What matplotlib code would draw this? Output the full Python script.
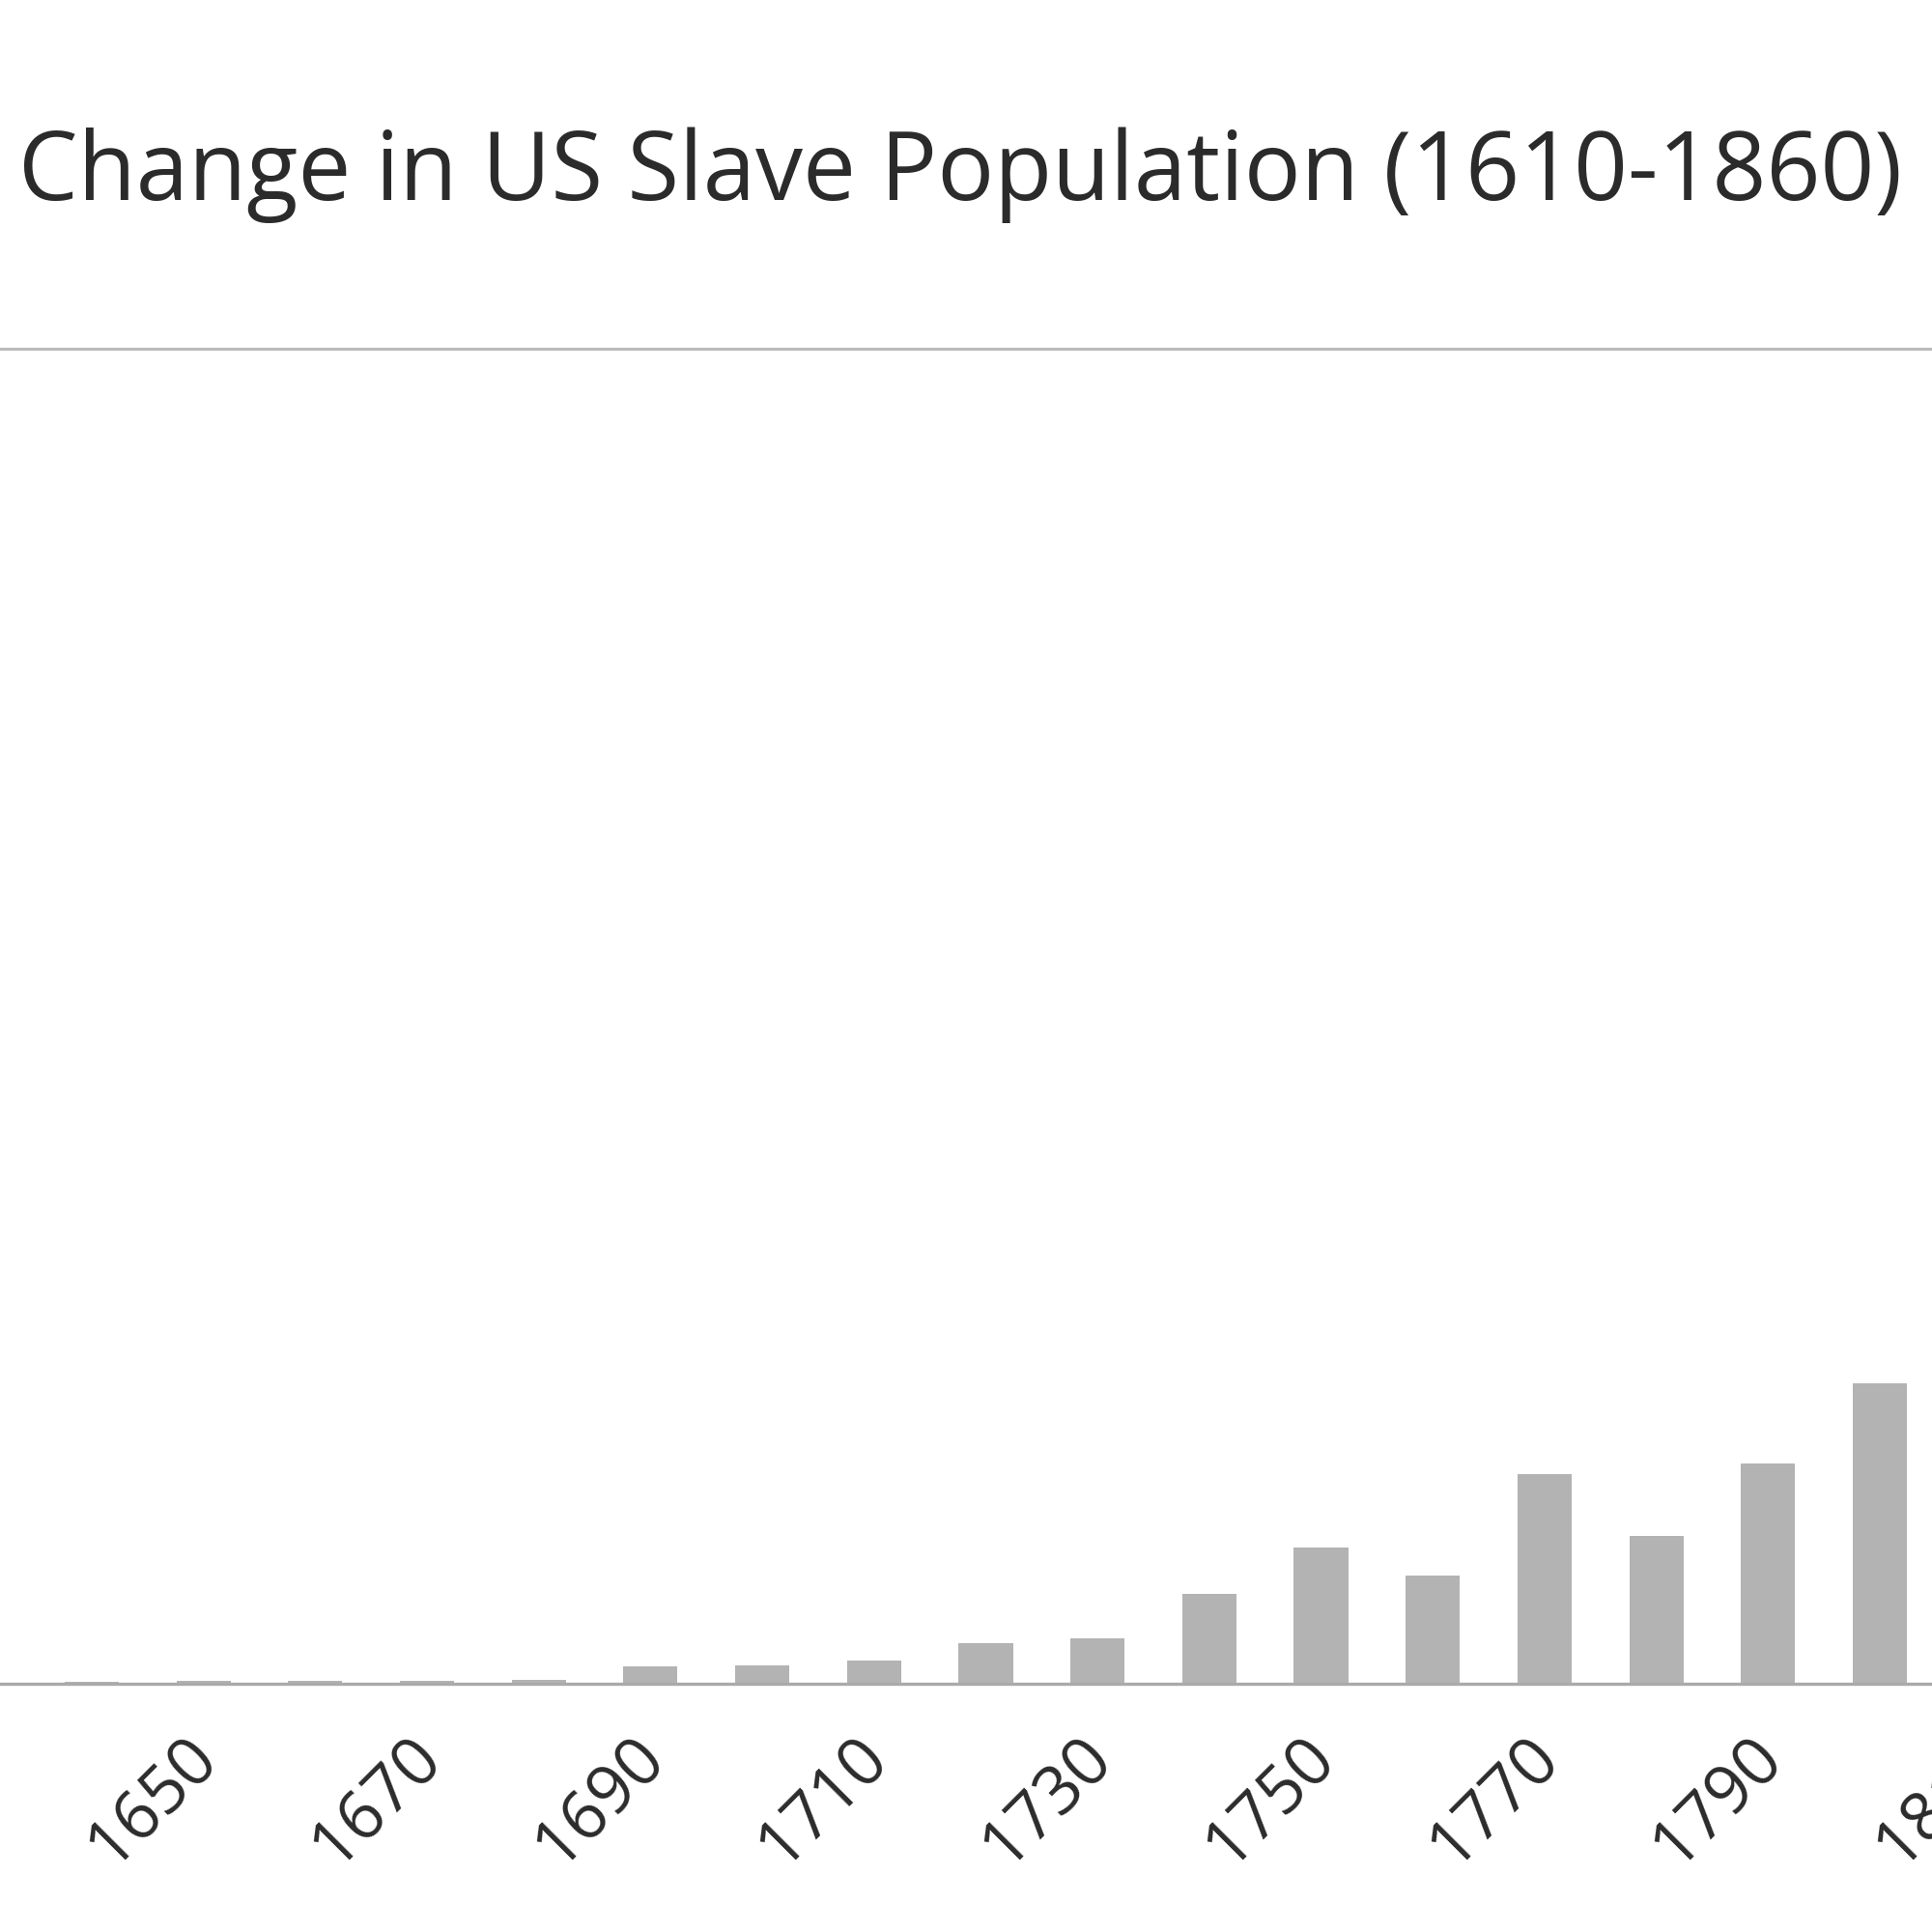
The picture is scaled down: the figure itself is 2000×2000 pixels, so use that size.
import matplotlib
matplotlib.use("Agg")
import matplotlib.pyplot as plt
from matplotlib.transforms import ScaledTranslation

years = [1630, 1640, 1650, 1660, 1670, 1680, 1690, 1700, 1710, 1720,
         1730, 1740, 1750, 1760, 1770, 1780, 1790, 1800]
change = [300, 1300, 1600, 1900, 1900, 2500, 11300, 12000, 15100, 26500,
          29600, 58600, 88800, 70600, 136700, 96400, 143600, 195900]
tick_years = [1650, 1670, 1690, 1710, 1730, 1750, 1770, 1790, 1810]
title = "Change in US Slave Population (1610-1860)"

plt.rcParams['font.family'] = ['Open Sans', 'DejaVu Sans']

fig = plt.figure(figsize=(20, 20), dpi=100)
fig.patch.set_facecolor('white')

ax = fig.add_axes([-0.155, 0.1285, 1.504, 0.691])
ax.bar(years, change, width=4.85, color='#b3b3b3', zorder=2)
ax.set_xlim(1605, 1865)
ax.set_ylim(0, 870000)

for s in ['left', 'right']:
    ax.spines[s].set_visible(False)
ax.spines['bottom'].set_color('#aaaaaa')
ax.spines['bottom'].set_linewidth(2.4)
ax.spines['bottom'].set_zorder(3)
ax.spines['top'].set_color('#bbbbbb')
ax.spines['top'].set_linewidth(2.2)

ax.set_yticks([])
ax.set_xticks(tick_years)
ax.set_xticklabels([str(y) for y in tick_years], rotation=45, ha='right',
                   va='top', rotation_mode='anchor', fontsize=50, color='#2b2b2b')
ax.tick_params(axis='x', length=0, pad=30)
offset = ScaledTranslation(-0.2, 0, fig.dpi_scale_trans)
for lbl in ax.get_xticklabels():
    lbl.set_transform(lbl.get_transform() + offset)

fig.text(19 / 2000, 1 - 207 / 2000, title, ha='left', va='baseline',
         fontsize=70.5, color='#2b2b2b')

fig.savefig('out.png', dpi=100, facecolor='white')
